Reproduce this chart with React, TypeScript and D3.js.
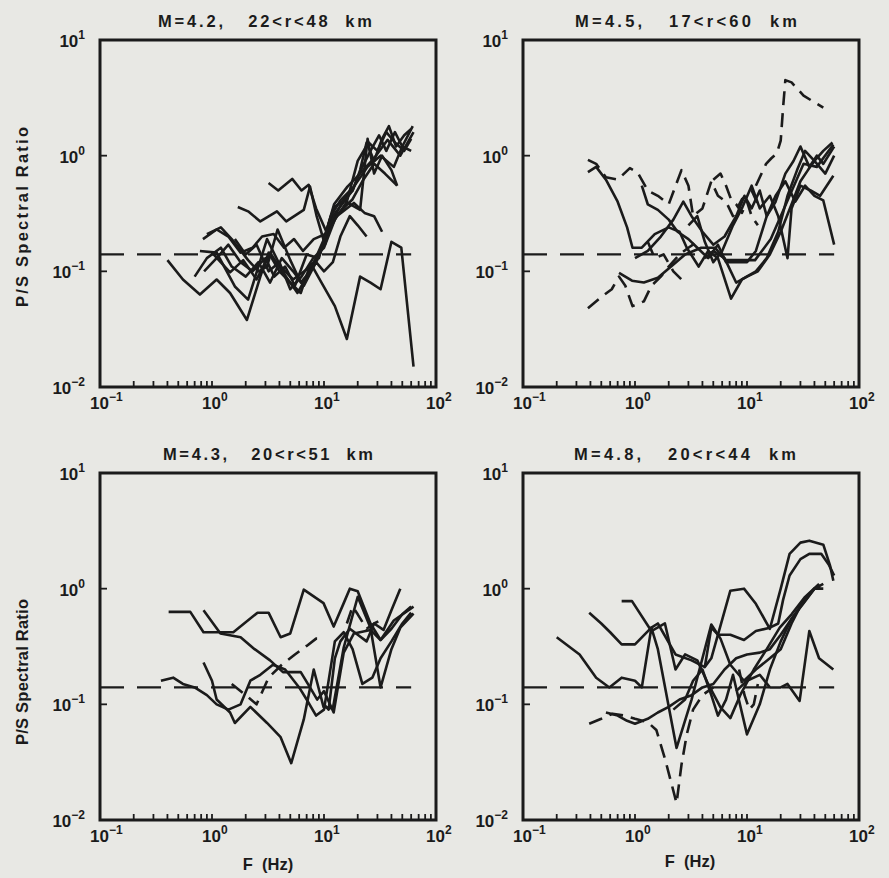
import React from 'react';
import * as d3 from 'd3';

// ---- data: [frequency Hz, P/S ratio] pairs ----

const titles = [
  'M=4.2,   22<r<48  km',
  'M=4.5,   17<r<60  km',
  'M=4.3,   20<r<51  km',
  'M=4.8,   20<r<44  km',
];

const refLevel = 0.14;
const refRange = [0.1, 60];

const xTickValues = [0.1, 1, 10, 100];
const yTickValues = [10, 1, 0.1, 0.01];
const xExp = ['\u22121', '0', '1', '2'];
const yExp = ['1', '0', '\u22121', '\u22122'];

const p1Solid = [
  [[0.4, 0.125], [0.55, 0.085], [0.78, 0.063], [1.1, 0.085], [1.45, 0.065], [2.05, 0.038], [2.7, 0.09], [3.2, 0.145], [4, 0.1], [5, 0.08], [6.2, 0.065], [7.6, 0.117], [9.5, 0.08], [12.5, 0.05], [16, 0.026], [21, 0.09], [26, 0.08], [32, 0.07], [40, 0.18], [49, 0.16], [63, 0.015]],
  [[3.2, 0.58], [3.9, 0.5], [5.2, 0.63], [6.3, 0.5], [7.3, 0.56], [8.5, 0.35], [10.5, 0.22], [12.5, 0.3], [15, 0.42], [18, 0.5], [21, 0.75], [24, 1.3], [28, 0.9], [33, 1.4], [38, 1.8], [44, 1.2], [52, 1.5], [60, 1.7]],
  [[1.7, 0.36], [2.1, 0.33], [2.7, 0.27], [3.8, 0.33], [4.6, 0.27], [6.6, 0.34], [7.5, 0.54], [8.6, 0.3], [10.2, 0.17], [12, 0.3], [14.5, 0.38], [18, 0.5], [22, 0.8], [26, 1.1], [31, 1.5], [36, 1.1], [43, 1.6], [50, 1.2], [62, 1.8]],
  [[0.83, 0.19], [1.1, 0.23], [1.4, 0.2], [1.8, 0.145], [2.3, 0.16], [2.8, 0.2], [3.55, 0.21], [4.4, 0.16], [5.4, 0.19], [6.5, 0.15], [8.1, 0.19], [10.3, 0.21], [12.3, 0.36], [15, 0.41], [18, 0.37], [21, 0.34], [24.5, 1.4], [28, 0.7], [33, 1.0], [40, 0.75], [45, 0.55]],
  [[0.78, 0.15], [1.1, 0.145], [1.6, 0.074], [2.1, 0.057], [3.1, 0.19], [4.1, 0.11], [5.3, 0.085], [7.6, 0.11], [9.3, 0.145], [11.5, 0.3], [14, 0.41], [18.5, 0.54], [24.5, 0.8], [32, 1.0], [42, 0.8], [50, 1.2], [60, 1.1]],
  [[0.9, 0.21], [1.2, 0.24], [1.5, 0.19], [2.1, 0.125], [2.6, 0.1], [3.1, 0.11], [3.85, 0.23], [5, 0.125], [6.2, 0.08], [7.5, 0.1], [10, 0.19], [12.3, 0.38], [16.2, 0.54], [21, 0.7], [28, 0.95], [37, 1.37], [48, 1.0], [63, 1.6]],
  [[1.0, 0.145], [1.45, 0.098], [1.9, 0.125], [2.5, 0.085], [3.3, 0.145], [4.3, 0.098], [5.8, 0.065], [6.8, 0.085], [8.7, 0.125], [10.7, 0.21], [13, 0.3], [18.5, 0.39], [23, 0.32], [28, 0.3], [33, 0.22]],
  [[0.85, 0.1], [1.1, 0.13], [1.4, 0.17], [1.8, 0.12], [2.3, 0.1], [3, 0.13], [3.6, 0.09], [4.5, 0.11], [5.5, 0.075], [7, 0.14], [9, 0.13], [11, 0.25], [14, 0.33], [18, 0.42], [22, 0.6], [28, 0.85], [35, 0.7], [45, 0.55]],
  [[1.6, 0.19], [2, 0.14], [2.5, 0.17], [3.2, 0.1], [4, 0.12], [5, 0.07], [6.3, 0.09], [8, 0.13], [10, 0.16], [12.5, 0.28], [16, 0.4], [20, 0.9], [25, 1.3], [30, 1.1], [36, 1.6], [43, 1.3], [52, 1.1], [60, 1.4]],
  [[0.7, 0.09], [0.9, 0.13], [1.2, 0.16], [1.5, 0.11], [2, 0.09], [2.6, 0.12], [3.3, 0.08], [4.2, 0.13], [5.3, 0.1], [6.6, 0.075], [8.5, 0.12], [10, 0.1], [12, 0.12], [14, 0.2], [17, 0.3], [20, 0.25], [24, 0.2]],
];
const p1Dashed = [];

const p2Solid = [
  [[0.38, 0.72], [0.45, 0.8], [0.55, 0.62], [0.7, 0.4], [0.85, 0.24], [0.95, 0.16], [1.15, 0.16], [1.5, 0.21], [2, 0.24], [2.5, 0.22], [2.9, 0.16], [3.7, 0.11], [4.5, 0.15], [5.5, 0.13], [7.2, 0.058], [9, 0.085], [12, 0.1], [15, 0.13], [19, 0.22], [23, 0.45], [28, 0.75], [33, 1.1], [40, 0.9], [48, 1.1], [58, 1.3]],
  [[0.72, 0.097], [0.94, 0.083], [1.2, 0.08], [1.6, 0.088], [2.1, 0.11], [2.8, 0.14], [3.9, 0.16], [5.2, 0.16], [6.4, 0.125], [8, 0.125], [11.8, 0.125], [16.3, 0.19], [20, 0.3], [24.5, 0.47], [32, 0.85], [42, 0.8], [59, 1.25]],
  [[1.15, 0.55], [1.3, 0.38], [1.6, 0.34], [2, 0.28], [2.4, 0.22], [3, 0.19], [3.6, 0.16], [4.5, 0.13], [5.5, 0.17], [6.5, 0.12], [8, 0.12], [10, 0.12], [12, 0.15], [15, 0.3], [18, 0.45], [22, 0.6], [27, 0.4], [33, 0.55], [40, 0.45], [48, 0.41], [60, 0.17]],
  [[4.2, 0.13], [5, 0.15], [6.3, 0.13], [8, 0.08], [10, 0.09], [12.5, 0.1], [16, 0.14], [20, 0.22], [25, 0.38], [30, 0.6], [35, 0.75], [40, 0.9], [50, 0.7], [60, 1.0]],
  [[3, 0.25], [3.6, 0.3], [4.2, 0.18], [5, 0.12], [6, 0.15], [7.5, 0.25], [9, 0.35], [11, 0.55], [13, 0.35], [16, 0.45], [19, 0.3], [23, 0.13], [25, 0.35], [30, 0.55], [37, 0.5], [45, 0.45], [59, 0.67]],
  [[1.0, 0.13], [1.3, 0.15], [1.7, 0.2], [2.2, 0.28], [2.7, 0.4], [3.2, 0.3], [4, 0.22], [5, 0.17], [6.3, 0.2], [8, 0.3], [9.5, 0.45], [11, 0.35], [13, 0.5], [15, 0.3], [18, 0.4], [22, 0.7], [26, 0.9], [30, 1.2], [36, 0.8], [42, 1.0], [48, 0.85], [60, 1.2]],
];
const p2Dashed = [
  [[12, 0.55], [14.8, 0.85], [16.5, 0.95], [18.5, 1.05], [20, 1.35], [21, 2.6], [22, 4.5], [25, 4.3], [32, 3.3], [48, 2.6]],
  [[0.38, 0.92], [0.45, 0.85], [0.55, 0.65], [0.7, 0.62], [0.9, 0.78], [1.05, 0.72], [1.3, 0.5], [1.6, 0.45], [2.0, 0.38], [2.6, 0.75], [3, 0.55], [3.3, 0.3], [4, 0.35], [4.8, 0.6], [5.5, 0.45], [6.5, 0.4], [7.5, 0.3], [9, 0.42], [11, 0.5], [13, 0.35]],
  [[0.38, 0.048], [0.5, 0.06], [0.62, 0.07], [0.72, 0.09], [0.82, 0.075], [0.95, 0.05], [1.2, 0.055], [1.4, 0.075], [1.7, 0.09], [2.0, 0.11], [2.5, 0.14], [3, 0.16], [3.6, 0.18]],
  [[1.3, 0.18], [1.5, 0.13], [1.8, 0.14], [2.2, 0.1], [2.6, 0.085]],
  [[5, 0.62], [5.8, 0.7], [6.5, 0.55], [7.2, 0.42], [8, 0.38], [9, 0.32], [10, 0.4], [11, 0.3], [12.5, 0.25]],
];

const p3Solid = [
  [[0.41, 0.63], [0.64, 0.63], [0.84, 0.42], [1.55, 0.42], [2.55, 0.62], [3.2, 0.62], [4.1, 0.38], [5.0, 0.41], [6.6, 0.98], [9.9, 0.75], [12.2, 0.47], [15, 0.75], [17, 1.0], [20, 0.95], [26, 0.5], [32, 0.36], [42, 0.53], [63, 0.7]],
  [[0.84, 0.65], [1.19, 0.41], [1.8, 0.38], [2.4, 0.3], [3.3, 0.24], [4.3, 0.19], [6.2, 0.19], [7.5, 0.14], [8.7, 0.11], [10, 0.13], [12.2, 0.085], [15, 0.28], [18.5, 0.41], [26, 0.44], [32, 0.36], [40, 0.45], [50, 0.6], [60, 0.7]],
  [[0.84, 0.23], [1.0, 0.16], [1.1, 0.11], [1.45, 0.085], [1.6, 0.069], [2.2, 0.095], [3.1, 0.069], [4.1, 0.052], [5.1, 0.031], [6.6, 0.074], [8.1, 0.2], [9.9, 0.095], [12, 0.092], [15, 0.31], [20, 0.85], [26, 0.46], [32, 0.14], [40, 0.3], [48, 0.46], [63, 0.61]],
  [[0.35, 0.16], [0.45, 0.17], [0.55, 0.15], [0.7, 0.14], [0.9, 0.12], [1.1, 0.1], [1.4, 0.09], [1.8, 0.1], [2.2, 0.16], [2.7, 0.18], [3.5, 0.22], [4.5, 0.2], [6, 0.14], [7, 0.11], [8.5, 0.08], [10, 0.09], [12.5, 0.35], [15, 0.42], [18, 0.3], [22, 0.15], [27, 0.17], [32, 0.25], [40, 0.35], [50, 0.5], [60, 0.62]],
  [[10, 0.1], [11, 0.09], [12.5, 0.25], [14, 0.35], [17, 0.45], [20, 0.4], [24, 0.35], [28, 0.5], [34, 0.44], [40, 0.65], [48, 1.0]],
];
const p3Dashed = [
  [[1.5, 0.15], [2, 0.12], [2.5, 0.1], [3.2, 0.17], [4.2, 0.22], [5.5, 0.27], [7, 0.32], [8.5, 0.37], [10, 0.37]],
  [[16, 0.5], [18, 0.7], [20, 0.6], [24, 0.45], [28, 0.5], [34, 0.55]],
];

const p4Solid = [
  [[0.39, 0.62], [0.5, 0.5], [0.6, 0.42], [0.76, 0.33], [1.0, 0.33], [1.4, 0.46], [1.6, 0.5], [2.3, 0.27], [3.2, 0.24], [4.2, 0.21], [4.8, 0.25], [7.1, 0.96], [9.4, 1.0], [12, 0.74], [16, 0.45], [20, 1.0], [24, 2.0], [30, 2.5], [36, 2.6], [48, 2.4], [55, 1.6], [59, 1.17]],
  [[4.2, 0.21], [4.8, 0.46], [5.5, 0.4], [7.1, 0.4], [9.4, 0.36], [12, 0.43], [16, 0.46], [19, 0.5], [21, 0.8], [24, 1.3], [30, 1.8], [36, 2.0], [46, 2.0], [54, 1.6], [60, 1.3]],
  [[0.2, 0.38], [0.32, 0.27], [0.45, 0.17], [0.59, 0.14], [0.76, 0.17], [1.0, 0.16], [1.15, 0.14], [1.4, 0.46], [1.6, 0.3], [2.35, 0.042], [3.2, 0.11], [4.8, 0.49], [5.8, 0.37], [7.1, 0.22], [9.4, 0.16], [12, 0.2], [16, 0.25], [20, 0.3], [25, 0.5], [32, 0.8], [40, 1.0], [48, 1.0]],
  [[0.76, 0.78], [0.94, 0.78], [1.4, 0.43], [1.85, 0.5], [2.3, 0.2], [2.8, 0.27], [3.6, 0.24], [4.5, 0.15], [5.8, 0.094], [7.1, 0.076], [8.7, 0.12], [11.5, 0.2], [15, 0.3], [19.6, 0.46], [25, 0.6], [33, 0.85], [44, 1.1]],
  [[0.55, 0.085], [0.7, 0.08], [0.85, 0.072], [1.0, 0.068], [1.3, 0.075], [1.6, 0.085], [2.0, 0.095], [2.5, 0.11], [3.2, 0.12], [4, 0.14], [5, 0.15], [6.3, 0.2], [8, 0.25], [10, 0.27], [13, 0.28], [16, 0.3], [20, 0.4], [25, 0.55], [32, 0.75], [40, 1.0], [45, 1.05]],
  [[8, 0.13], [10, 0.16], [13, 0.18], [16, 0.14], [20, 0.14], [23, 0.15], [29.5, 0.107], [36, 0.43], [44, 0.25], [59, 0.2]],
  [[2.2, 0.09], [2.8, 0.11], [3.3, 0.16], [4, 0.2], [4.8, 0.12], [5.5, 0.08], [6.5, 0.11], [7.5, 0.18], [10, 0.055], [13, 0.1], [16, 0.2], [20, 0.35], [25, 0.55], [30, 0.7], [40, 1.0], [48, 1.1]],
];
const p4Dashed = [
  [[0.39, 0.068], [0.5, 0.075], [0.63, 0.083], [0.8, 0.08], [1.0, 0.075], [1.3, 0.07], [1.55, 0.06], [1.85, 0.034], [2.35, 0.014], [2.6, 0.03], [2.9, 0.055], [3.3, 0.09], [4, 0.12], [5, 0.14]],
  [[8.5, 0.2], [9.5, 0.12], [10.5, 0.09], [11.5, 0.1], [12.5, 0.15]],
];

// ---- layout ----
const W = 889;
const H = 878;
const FONT = "'Liberation Sans', Arial, Helvetica, sans-serif";
const INK = '#1b1b1b';
const PW = 336;
const PH = 347;

const panels = [
  { title: titles[0], solid: p1Solid, dashed: p1Dashed, left: 100, top: 40, titleX: 265, titleW: 214, yLabel: { cy: 217, len: 180 } },
  { title: titles[1], solid: p2Solid, dashed: p2Dashed, left: 523, top: 40, titleX: 686, titleW: 222 },
  { title: titles[2], solid: p3Solid, dashed: p3Dashed, left: 100, top: 473, titleX: 268, titleW: 210, yLabel: { cy: 672, len: 146 }, xLabel: { cx: 268, y: 870 } },
  { title: titles[3], solid: p4Solid, dashed: p4Dashed, left: 523, top: 473, titleX: 685, titleW: 222, xLabel: { cx: 690, y: 867 } },
];

function Panel({ p, idx }) {
  const x = d3.scaleLog().domain([0.1, 100]).range([p.left, p.left + PW]);
  const y = d3.scaleLog().domain([0.01, 10]).range([p.top + PH, p.top]);
  const line = d3
    .line()
    .x(d => x(d[0]))
    .y(d => y(d[1]));

  // minor ticks 1..9 per decade on the bottom axis
  const minor = [];
  [0.1, 1, 10].forEach(dec => {
    d3.range(1, 10).forEach(k => {
      if (dec * k > 0.1) minor.push(dec * k);
    });
  });

  const clipId = `clip${idx}`;

  return (
    <g>
      <defs>
        <clipPath id={clipId}>
          <rect x={p.left} y={p.top} width={PW} height={PH} />
        </clipPath>
      </defs>

      <text
        x={p.titleX}
        y={p.top - 13}
        textAnchor="middle"
        fontFamily={FONT}
        fontWeight="bold"
        fontSize={16.5}
        fill={INK}
        xmlSpace="preserve"
        textLength={p.titleW}
        lengthAdjust="spacing"
        style={{ whiteSpace: 'pre' }}>
        {p.title}
      </text>

      <g clipPath={`url(#${clipId})`} fill="none" stroke={INK} strokeLinejoin="round">
        <path
          d={line(refRange.map(f => [f, refLevel]))}
          strokeWidth={2.3}
          strokeDasharray="24 13"
        />
        {p.solid.map((c, i) => (
          <path key={'s' + i} d={line(c)} strokeWidth={2.6} />
        ))}
        {p.dashed.map((c, i) => (
          <path key={'d' + i} d={line(c)} strokeWidth={2.6} strokeDasharray="14 8" />
        ))}
      </g>

      <rect x={p.left} y={p.top} width={PW} height={PH} fill="none" stroke={INK} strokeWidth={3} />

      {minor.map((v, i) => (
        <line key={i} x1={x(v)} x2={x(v)} y1={p.top + PH} y2={p.top + PH - 6} stroke={INK} strokeWidth={1.8} />
      ))}
      {[1, 0.1].map(v => (
        <line key={v} x1={p.left} x2={p.left + 7} y1={y(v)} y2={y(v)} stroke={INK} strokeWidth={1.8} />
      ))}

      {xTickValues.map((v, i) => (
        <text key={'xt' + i} x={x(v) - 10} y={p.top + PH + 22} fontFamily={FONT} fontWeight="bold" fontSize={17} fill={INK}>
          <tspan>10</tspan>
          <tspan dy={-8} fontSize={12}>{xExp[i]}</tspan>
        </text>
      ))}
      {yTickValues.map((v, i) => (
        <text key={'yt' + i} x={p.left - 15} y={y(v) + 7} textAnchor="end" fontFamily={FONT} fontWeight="bold" fontSize={17} fill={INK}>
          <tspan>10</tspan>
          <tspan dy={-8} fontSize={12}>{yExp[i]}</tspan>
        </text>
      ))}

      {p.yLabel && (
        <text
          transform={`translate(28,${p.yLabel.cy}) rotate(-90)`}
          textAnchor="middle"
          fontFamily={FONT}
          fontWeight="bold"
          fontSize={16.5}
          fill={INK}
          textLength={p.yLabel.len}
          lengthAdjust="spacing">
          P/S Spectral Ratio
        </text>
      )}
      {p.xLabel && (
        <text
          x={p.xLabel.cx}
          y={p.xLabel.y}
          textAnchor="middle"
          fontFamily={FONT}
          fontWeight="bold"
          fontSize={16.5}
          fill={INK}
          xmlSpace="preserve"
          style={{ whiteSpace: 'pre' }}>
          F  (Hz)
        </text>
      )}
    </g>
  );
}

export default function App() {
  return (
    <svg
      width={W}
      height={H}
      viewBox={`0 0 ${W} ${H}`}
      style={{ position: 'absolute', left: 0, top: 0, display: 'block' }}>
      <rect x={0} y={0} width={W} height={H} fill="#e8e8e4" />
      {panels.map((p, i) => (
        <Panel key={i} p={p} idx={i} />
      ))}
    </svg>
  );
}
